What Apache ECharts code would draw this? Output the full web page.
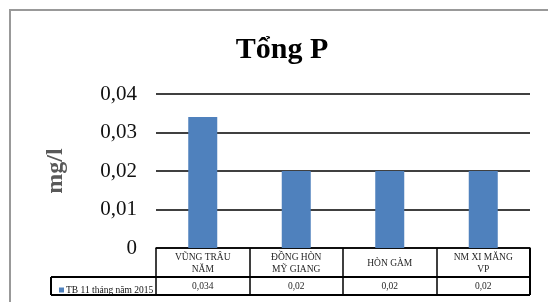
<!DOCTYPE html>
<html>
<head>
<meta charset="utf-8">
<script src="https://cdn.jsdelivr.net/npm/echarts@6/dist/echarts.min.js"></script>
<style>
html, body { margin: 0; padding: 0; background: #fff; }
#chart { width: 548px; height: 302px; }
</style>
</head>
<body>
<div id="chart"></div>
<script>
// du lieu bieu do Tong P
let categories = ['VŨNG TRÂU\nNĂM', 'ĐỒNG HÒN\nMỸ GIANG', 'HÒN GÀM', 'NM XI MĂNG\nVP'];
let values = [0.034, 0.02, 0.02, 0.02];
let seriesName = 'TB 11 tháng năm 2015';
let yTicks = [0, 0.01, 0.02, 0.03, 0.04];

let serif = '"Liberation Serif", "DejaVu Serif", serif';
let fmt = (v) => String(v).replace('.', ',');

// khung bang (toa do theo grid)
let gl = 156, gr = 530, gb = 248, rowMid = 277, rowBot = 295, legL = 51;

let chart = echarts.init(document.getElementById('chart'), null, { renderer: 'canvas' });
chart.setOption({
    animation: false,
    title: {
        text: 'Tổng P',
        left: 277,
        top: 30,
        textAlign: 'center',
        textStyle: { fontFamily: serif, fontSize: 30, fontWeight: 'bold', color: '#000' }
    },
    legend: {
        left: legL + 3,
        top: rowMid + 3,
        icon: 'rect',
        itemWidth: 5,
        itemHeight: 5,
        itemStyle: { borderWidth: 0, color: '#4F81BD' },
        textStyle: { fontFamily: serif, fontSize: 9.5, color: '#111', padding: [0, 0, 0, -3] },
        data: [seriesName]
    },
    grid: { left: gl, right: 548 - gr, top: 94, bottom: 302 - gb },
    xAxis: [{
        type: 'category',
        data: categories,
        axisLine: { show: true, lineStyle: { color: '#000', width: 1.5 } },
        axisTick: { show: true, length: rowBot - gb, lineStyle: { color: '#000', width: 1.5 } },
        axisLabel: {
            interval: 0,
            margin: 15,
            verticalAlign: 'middle',
            lineHeight: 12,
            fontFamily: serif,
            fontSize: 9.5,
            color: '#262626'
        }
    }, {
        type: 'category',
        data: values.map(fmt),
        position: 'bottom',
        axisLine: { show: false },
        axisTick: { show: false },
        axisLabel: {
            interval: 0,
            margin: 38,
            verticalAlign: 'middle',
            fontFamily: serif,
            fontSize: 9.5,
            color: '#262626'
        }
    }],
    yAxis: {
        type: 'value',
        min: yTicks[0],
        max: yTicks[yTicks.length - 1],
        interval: 0.01,
        name: 'mg/l',
        nameLocation: 'middle',
        nameRotate: 90,
        nameGap: 88,
        nameTextStyle: { fontFamily: serif, fontSize: 24, fontWeight: 'bold', color: '#595959' },
        axisLine: { show: false },
        axisTick: { show: false },
        splitLine: { lineStyle: { color: '#000', width: 1.5 } },
        axisLabel: {
            margin: 19,
            fontFamily: serif,
            fontSize: 21,
            color: '#111',
            formatter: fmt
        }
    },
    series: [{
        name: seriesName,
        type: 'bar',
        barWidth: 29,
        data: values,
        itemStyle: { color: '#4F81BD' }
    }],
    graphic: [
        // khung ngoai
        { type: 'rect', shape: { x: 10, y: 10, width: 600, height: 320 }, style: { fill: null, stroke: '#999', lineWidth: 2 }, silent: true },
        // dong du lieu
        { type: 'line', shape: { x1: legL, y1: rowMid, x2: gr, y2: rowMid }, style: { stroke: '#000', lineWidth: 2 } },
        { type: 'line', shape: { x1: legL, y1: rowBot, x2: gr, y2: rowBot }, style: { stroke: '#000', lineWidth: 2 } },
        { type: 'line', shape: { x1: legL, y1: rowMid, x2: legL, y2: rowBot }, style: { stroke: '#000', lineWidth: 2 } },
        { type: 'line', shape: { x1: gr, y1: gb, x2: gr, y2: rowBot }, style: { stroke: '#000', lineWidth: 2 } }
    ]
});
</script>
</body>
</html>
